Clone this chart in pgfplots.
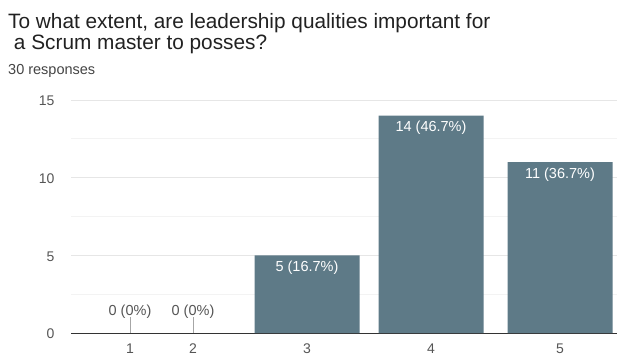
\documentclass[border=0pt]{standalone}
\usepackage{pgfplots}
\pgfplotsset{compat=1.18}
\usepackage{fontspec}
\setmainfont{Liberation Sans}
\definecolor{barc}{HTML}{5E7A87}
\definecolor{titlec}{HTML}{212121}
\definecolor{subc}{HTML}{444444}
\definecolor{tickc}{HTML}{555555}
\definecolor{axisc}{HTML}{333333}
\definecolor{gridmaj}{HTML}{E6E6E6}
\definecolor{gridmin}{HTML}{F3F3F3}
\begin{document}
\begin{tikzpicture}[x=1pt,y=1pt]
\begin{axis}[
  at={(0,0)}, anchor=south west,
  scale only axis, width=546pt, height=233pt,
  xmin=71, xmax=617, ymin=0, ymax=15,
  axis x line=bottom, axis y line=left,
  y axis line style={draw=none},
  x axis line style={draw=axisc, -},
  ytick={0,5,10,15}, minor ytick={2.5,7.5,12.5},
  ymajorgrids, yminorgrids,
  major grid style={draw=gridmaj, line width=0.8pt},
  minor grid style={draw=gridmin, line width=0.8pt},
  xtick={130,193,307,431,560}, xticklabels={1,2,3,4,5},
  major tick length=0pt, minor tick length=0pt,
  extra x ticks={130,193}, extra x tick labels={},
  extra x tick style={major tick length=16pt, tick align=inside, tick style={draw=gray!70, line width=0.8pt}},
  /pgf/number format/assume math mode=true,
  ticklabel style={font=\fontsize{14}{16}\selectfont, text=tickc},
  yticklabel style={anchor=east, xshift=-13pt, yshift=-1pt},
  xticklabel style={anchor=north, yshift=-7pt},
  point meta=explicit symbolic,
  clip=false,
]
\addplot[ybar, bar width=105, fill=barc, draw=none,
  nodes near coords,
  every node near coord/.append style={anchor=north, yshift=-2pt, text=white, font=\fontsize{14.5}{16}\selectfont}]
  coordinates {(307,5) [5 (16.7\%)] (431,14) [14 (46.7\%)] (560,11) [11 (36.7\%)]};
\addplot[draw=none, mark=none,
  nodes near coords,
  every node near coord/.append style={anchor=base, yshift=18pt, text=tickc, font=\fontsize{14.5}{16}\selectfont}]
  coordinates {(130,0) [0 (0\%)] (193,0) [0 (0\%)]};
\end{axis}
\node[anchor=base west, text=titlec, font=\fontsize{20.8}{22}\selectfont, inner sep=0pt] at (-63,304) {To what extent, are leadership qualities important for};
\node[anchor=base west, text=titlec, font=\fontsize{20.8}{22}\selectfont, inner sep=0pt] at (-63,283) {\ a Scrum master to posses?};
\node[anchor=base west, text=subc, font=\fontsize{14.5}{16}\selectfont, inner sep=0pt] at (-63,258) {30 responses};
\pgfresetboundingbox
\useasboundingbox (-71,-23) rectangle (546,333);
\end{tikzpicture}
\end{document}
